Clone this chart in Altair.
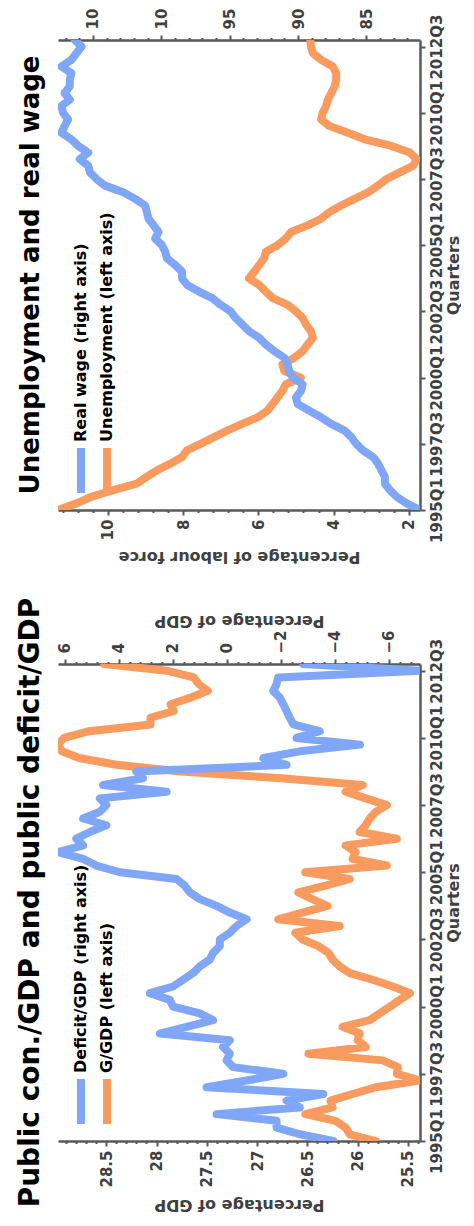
import json
import altair as alt
import pandas as pd

# ---------------- data ----------------
quarter_labels = ["1995Q1", "1997Q3", "2000Q1", "2002Q3", "2005Q1", "2007Q3", "2010Q1", "2012Q3"]
quarter_ticks = [0, 10, 20, 30, 40, 50, 60, 70]

unemployment = [11.33, 10.84, 10.44, 9.86, 9.23, 8.97, 8.70, 8.34, 8.03, 7.90,
                7.54, 7.18, 6.83, 6.43, 6.02, 5.76, 5.62, 5.49, 5.36, 5.27,
                4.87, 5.31, 5.36, 5.04, 4.82, 4.69, 4.55, 4.60, 4.73, 4.82,
                5.00, 5.22, 5.62, 5.80, 5.98, 6.25, 6.11, 5.98, 5.85, 5.80,
                5.49, 5.27, 5.13, 4.69, 4.33, 4.11, 3.80, 3.44, 3.08, 2.82,
                2.59, 2.24, 1.88, 1.79, 1.97, 2.46, 3.17, 3.62, 4.11, 4.33,
                4.29, 4.20, 4.15, 4.06, 3.97, 3.93, 3.93, 4.02, 4.33, 4.55,
                4.60, 4.62]

real_wage = [81.08, 82.06, 82.79, 83.28, 83.65, 83.65, 83.90, 84.14, 84.51, 85.25,
             85.74, 86.10, 86.59, 87.57, 88.31, 89.17, 90.02, 90.15, 89.78, 89.66,
             90.39, 90.64, 90.76, 91.00, 91.74, 92.35, 92.84, 93.58, 94.07, 94.56,
             94.93, 95.66, 96.27, 97.25, 98.11, 98.48, 98.48, 98.97, 99.58, 99.71,
             99.95, 100.44, 100.20, 100.56, 100.93, 101.05, 101.18, 101.91, 102.77, 104.12,
             104.73, 105.22, 105.34, 105.96, 105.34, 106.08, 106.57, 107.30, 107.06, 106.81,
             107.18, 107.30, 106.69, 107.06, 106.69, 106.69, 106.57, 107.30, 106.57, 106.20,
             105.83, 106.32]

g_gdp = [25.82, 26.08, 26.12, 26.22, 26.52, 26.25, 26.27, 26.05, 25.82, 25.38,
         25.61, 25.60, 25.75, 26.49, 25.92, 26.00, 25.98, 26.15, 25.88, 25.78,
         25.68, 25.58, 25.48, 25.65, 25.85, 26.08, 26.18, 26.25, 26.29, 26.39,
         26.55, 26.62, 26.18, 26.79, 26.55, 26.30, 26.45, 26.59, 26.32, 26.08,
         26.52, 25.71, 26.05, 26.02, 26.12, 25.61, 25.98, 25.92, 25.88, 25.82,
         25.71, 25.92, 26.12, 25.95, 26.76, 27.76, 28.40, 28.77, 28.94, 28.98,
         28.92, 28.67, 28.06, 28.06, 27.83, 27.86, 27.66, 27.49, 27.58, 27.63,
         27.90, 28.52]

deficit = [-3.94, -2.70, -1.84, -1.84, 0.38, -2.70, -2.21, -3.57, 0.75, -0.73,
           -2.09, -0.23, 0.01, -0.11, 0.14, -0.11, 2.48, 1.49, 0.51, 1.00,
           1.99, 2.11, 2.85, 1.99, 1.62, 1.25, 1.00, 0.63, 0.51, 0.26,
           0.26, -0.11, -0.36, -0.73, -0.11, 0.38, 1.00, 1.37, 1.56, 1.86,
           3.96, 4.83, 5.32, 6.25, 5.32, 5.57, 5.07, 4.46, 5.32, 4.70,
           4.46, 4.70, 2.23, 4.58, 3.10, 3.35, -2.21, -1.35, -2.70, -4.93,
           -2.58, -3.44, -2.46, -2.33, -2.21, -2.09, -1.96, -1.72, -1.84, -1.90,
           -7.15, -2.83]

unemp_domain = [1.70, 11.33]
wage_domain = [81.08, 107.55]
g_domain = [25.38, 28.98]
def_domain = [-7.15, 6.25]

unemp_ticks = [round(2.0 + 0.4 * i, 1) for i in range(24)]
wage_ticks = list(range(82, 108))
g_ticks = [round(25.4 + 0.1 * i, 1) for i in range(36)]
def_ticks = [round(-6.8 + 0.4 * i, 1) for i in range(33)]

titles = ["Unemployment and real wage", "Public con./GDP and public deficit/GDP"]
legend_top = ["Real wage (right axis)", "Unemployment (left axis)"]
legend_bottom = ["Deficit/GDP (right axis)", "G/GDP (left axis)"]

# ---------------- style ----------------
FONT = "DejaVu Sans"
AXIS_C = "#595959"
LABEL_C = "#404040"
BLUE = "#7fa6f7"
ORANGE = "#f99a5e"
W = 362
LBL = 15


def major(step):
    return f"abs(datum.value/{step} - round(datum.value/{step})) < 0.001"


def value_axis(orient, values, step, title, label_expr=None):
    test = major(step)
    if label_expr is None:
        label_expr = f"{test} ? format(datum.value, '~g') : ''"
    top = orient == "top"
    return alt.Axis(
        orient=orient, values=values, labelExpr=label_expr,
        tickSize=5, tickWidth=2, tickColor=AXIS_C,
        tickDash={"condition": {"test": test, "value": [1, 0]}, "value": [2.5, 20]},
        domainColor=AXIS_C, domainWidth=2.5, grid=False,
        labelAngle=270, labelAlign="left" if top else "right",
        labelBaseline="middle", labelPadding=6 if top else 4,
        labelFont=FONT, labelFontSize=LBL, labelFontWeight="bold", labelColor=LABEL_C,
        labelOverlap=False, labelFlush=False,
        title=title, titleAngle=180, titleBaseline="top" if top else "bottom",
        titlePadding=1 if top else 9,
        titleFont=FONT, titleFontSize=16, titleFontWeight="bold", titleColor=LABEL_C,
    )


time_axis = alt.Axis(
    orient="right", values=quarter_ticks,
    labelExpr=json.dumps(quarter_labels) + "[round(datum.value/10)]",
    tickSize=5, tickWidth=2, tickColor=AXIS_C,
    domainColor=AXIS_C, domainWidth=2.5, grid=False,
    labelAngle=270, labelAlign="center", labelBaseline="top", labelPadding=4,
    labelFont=FONT, labelFontSize=LBL, labelFontWeight="bold", labelColor=LABEL_C,
    labelOverlap=False, labelFlush=False,
    title="Quarters", titleAngle=270, titleBaseline="top", titlePadding=1,
    titleFont=FONT, titleFontSize=16, titleFontWeight="bold", titleColor=LABEL_C,
)


def panel(title, title_size, H, left_vals, left_domain, left_axis,
          right_vals, right_domain, right_axis, legend_labels):
    q = list(range(len(left_vals)))
    df_l = pd.DataFrame({"q": q, "v": left_vals})
    df_r = pd.DataFrame({"q": q, "v": right_vals})
    yenc = alt.Y("q:Q", scale=alt.Scale(domain=[0, 71], nice=False, zero=False), axis=time_axis)
    line_kw = dict(strokeWidth=8, strokeJoin="round", strokeCap="round", clip=True)
    left = alt.Chart(df_l).mark_line(color=ORANGE, **line_kw).encode(
        x=alt.X("v:Q", scale=alt.Scale(domain=left_domain, reverse=True, nice=False, zero=False),
                axis=left_axis),
        y=yenc, order=alt.Order("q:Q"))
    right = alt.Chart(df_r).mark_line(color=BLUE, **line_kw).encode(
        x=alt.X("v:Q", scale=alt.Scale(domain=right_domain, reverse=True, nice=False, zero=False),
                axis=right_axis),
        y=yenc, order=alt.Order("q:Q"))
    layers = [left, right]
    for lab, col, xpos in zip(legend_labels, [BLUE, ORANGE], [23, 49]):
        d = pd.DataFrame({"t": [lab]})
        layers.append(alt.Chart(d).mark_rule(color=col, strokeWidth=8).encode(
            x=alt.value(xpos), y=alt.value(H - 62), y2=alt.value(H - 17)))
        layers.append(alt.Chart(d).mark_text(
            angle=270, align="left", baseline="middle", font=FONT, fontSize=16,
            fontWeight="bold", color="black").encode(
            x=alt.value(xpos), y=alt.value(H - 68), text="t:N"))
    # panel title (rotated, reading bottom-to-top)
    dt = pd.DataFrame({"t": [title]})
    layers.append(alt.Chart(dt).mark_text(
        angle=270, align="center", baseline="alphabetic", font=FONT, fontSize=title_size,
        fontWeight="bold", color="black").encode(
        x=alt.value(-19), y=alt.value(H / 2), text="t:N"))
    return alt.layer(*layers).resolve_scale(x="independent").properties(width=W, height=H)


top = panel(
    titles[0], 26, 470,
    unemployment, unemp_domain,
    value_axis("bottom", unemp_ticks, 2, "Percentage of labour force"),
    real_wage, wage_domain,
    value_axis("top", wage_ticks, 5, None,
               label_expr=f"{major(5)} ? (datum.value >= 100 ? '10' : format(datum.value, '~g')) : ''"),
    legend_top)

bottom = panel(
    titles[1], 28, 477,
    g_gdp, g_domain,
    value_axis("bottom", g_ticks, 0.5, "Percentage of GDP"),
    deficit, def_domain,
    value_axis("top", def_ticks, 2, "Percentage of GDP"),
    legend_bottom)

chart = alt.vconcat(top, bottom, spacing=32).configure_view(stroke=None).properties(
    padding={"left": 8, "top": 0, "right": 0, "bottom": 2})

chart.save("out.html", embed_options={"renderer": "svg", "actions": False})
